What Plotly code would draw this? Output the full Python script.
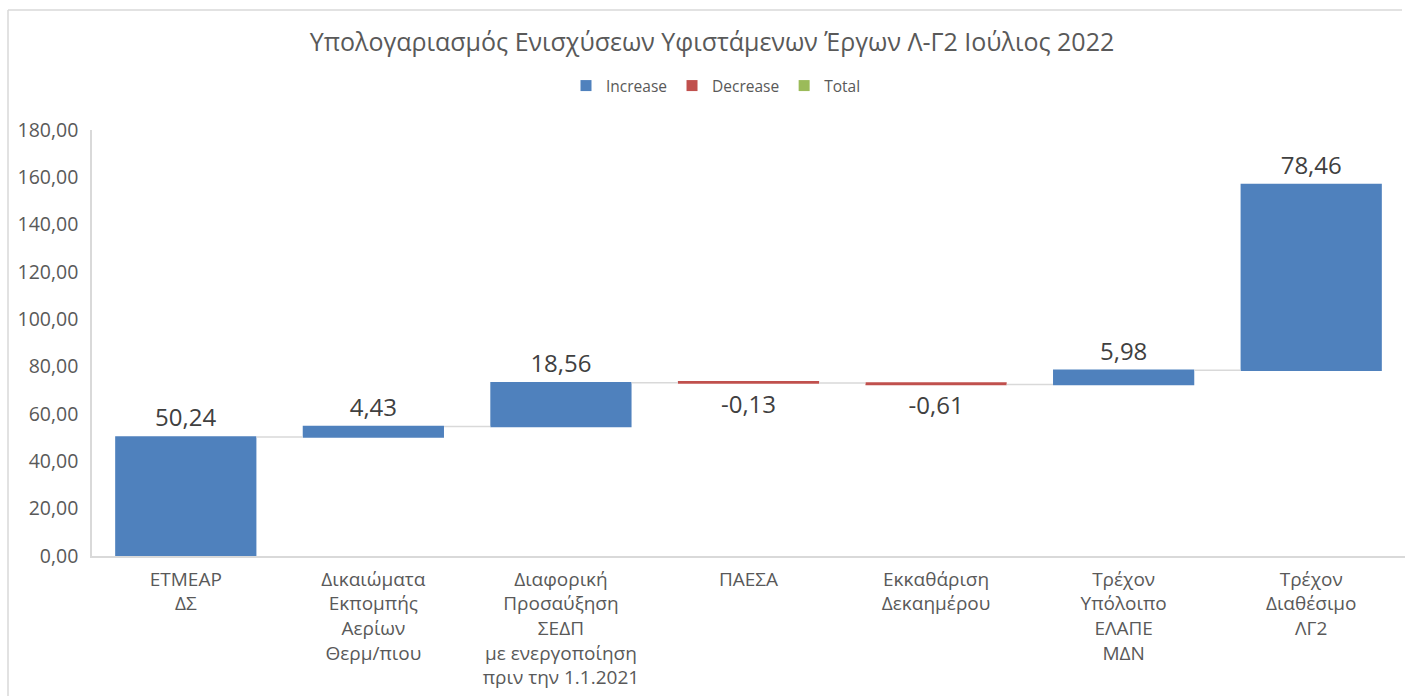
import plotly.graph_objects as go

# Waterfall data: monthly support-account movements (million €)
categories = [
    "ΕΤΜΕΑΡ<br>ΔΣ",
    "Δικαιώματα<br>Εκπομπής<br>Αερίων<br>Θερμ/πιου",
    "Διαφορική<br>Προσαύξηση<br>ΣΕΔΠ<br>με ενεργοποίηση<br>πριν την 1.1.2021",
    "ΠΑΕΣΑ",
    "Εκκαθάριση<br>Δεκαημέρου",
    "Τρέχον<br>Υπόλοιπο<br>ΕΛΑΠΕ<br>ΜΔΝ",
    "Τρέχον<br>Διαθέσιμο<br>ΛΓ2",
]
values = [50.24, 4.43, 18.56, -0.13, -0.61, 5.98, 78.46]
measures = ["relative"] * len(values)

y_ticks = list(range(0, 181, 20))

BLUE = "#4F81BD"
RED = "#C0504D"
GREEN = "#9BBB59"
GREY_TXT = "#595959"
FRAME = "#D9D9D9"
FONT = "Open Sans"

labels = [f"{v:.2f}".replace(".", ",") for v in values]

fig = go.Figure()
fig.add_trace(go.Waterfall(
    x=categories,
    y=values,
    measure=measures,
    text=labels,
    textposition="outside",
    textfont=dict(size=24, color="#404040", family=FONT),
    increasing=dict(marker=dict(color=BLUE)),
    decreasing=dict(marker=dict(color=RED)),
    totals=dict(marker=dict(color=GREEN)),
    connector=dict(line=dict(color=FRAME, width=1.5)),
    cliponaxis=False,
    showlegend=False,
    hoverinfo="x+y",
))

# Legend entries
for name, col in [("Increase", BLUE), ("Decrease", RED), ("Total", GREEN)]:
    fig.add_trace(go.Scatter(
        x=[None], y=[None], mode="markers", name=name,
        marker=dict(symbol="square", size=11, color=col),
    ))

L, R, T, B = 92, 0, 130, 142
W, H = 1405, 698
pw, ph = W - L - R, H - T - B

# outer chart frame: top and left edges
fx0 = (8 - L) / pw
fy1 = (H - B - 10) / ph
frame = [
    dict(type="line", xref="paper", yref="paper", x0=fx0, x1=(W - L - 3) / pw,
         y0=fy1, y1=fy1, line=dict(color=FRAME, width=1.5), layer="below"),
    dict(type="line", xref="paper", yref="paper", x0=fx0, x1=fx0,
         y0=-(B - 2) / ph, y1=fy1, line=dict(color=FRAME, width=1.5), layer="below"),
]

fig.update_layout(
    width=W, height=H,
    margin=dict(l=L, r=R, t=T, b=B),
    paper_bgcolor="white",
    plot_bgcolor="white",
    separators=",.",
    font=dict(family=FONT, color=GREY_TXT),
    title=dict(
        text="Υπολογαριασμός Ενισχύσεων Υφιστάμενων Έργων Λ-Γ2 Ιούλιος 2022",
        x=712 / W, xanchor="center", y=1 - 42 / H, yanchor="middle",
        font=dict(size=25, color=GREY_TXT, family=FONT),
    ),
    legend=dict(
        orientation="h", x=(716 - L) / pw, xanchor="center",
        y=1 + (130 - 86) / ph, yanchor="middle",
        font=dict(size=15.5, color=GREY_TXT, family=FONT),
        itemwidth=30, tracegroupgap=0,
    ),
    waterfallgap=0.247,
    xaxis=dict(
        showgrid=False, showline=True, linecolor=FRAME, linewidth=1.5,
        ticks="", tickfont=dict(size=19, color=GREY_TXT, family=FONT),
        ticklabelstandoff=5, fixedrange=True,
    ),
    yaxis=dict(
        range=[0, 180], tickvals=y_ticks, tickformat=".2f",
        showgrid=False, zeroline=False, showline=True,
        linecolor=FRAME, linewidth=1.5, ticks="",
        tickfont=dict(size=19.5, color=GREY_TXT, family=FONT),
        ticklabelstandoff=8,
    ),
    shapes=frame,
)

fig.write_html("out.html")
